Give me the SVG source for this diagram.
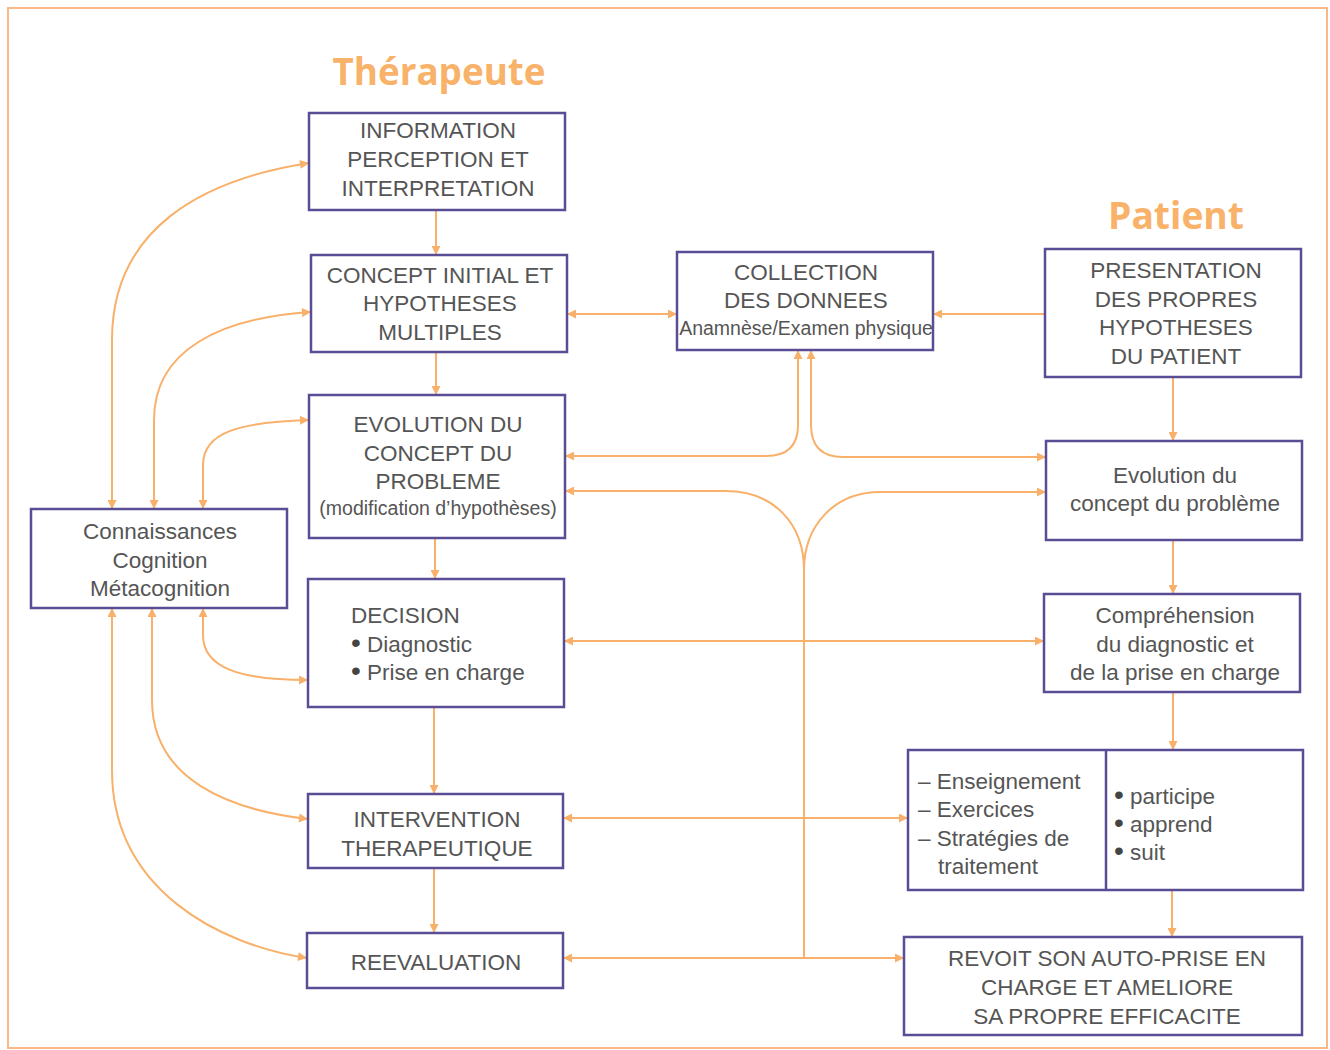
<svg xmlns="http://www.w3.org/2000/svg" width="1330" height="1050" viewBox="0 0 1330 1050">
<style>
.box{fill:#fff;stroke:#5a4c95;stroke-width:2.5}
.t{font-family:"Liberation Sans",Arial,sans-serif;font-size:22.5px;fill:#555;text-anchor:middle}
.s{font-size:19.5px}
.l{text-anchor:start}
.bu{font-size:28px;fill:#444}
.c{fill:none;stroke:#f8b06a;stroke-width:2}
.ttl{font-family:"Open Sans","Liberation Sans",sans-serif;font-weight:bold;fill:#f8b26a;text-anchor:middle}
</style>
<defs>
<marker id="a" viewBox="0 0 10 10" refX="10" refY="5" markerWidth="11" markerHeight="9" markerUnits="userSpaceOnUse" orient="auto-start-reverse">
<path d="M0,0 L10,5 L0,10 z" fill="#f8b06a"/>
</marker>
</defs>
<rect x="8" y="8" width="1319" height="1040" fill="#fff" stroke="#f8b888" stroke-width="2"/>
<text class="ttl" x="439" y="85" font-size="38" textLength="213" lengthAdjust="spacingAndGlyphs">Thérapeute</text>
<text class="ttl" x="1176" y="229" font-size="38" textLength="136" lengthAdjust="spacingAndGlyphs">Patient</text>

<g id="connectors">
<path class="c" d="M436,210 L436,255" marker-end="url(#a)"/>
<path class="c" d="M436,352 L436,395" marker-end="url(#a)"/>
<path class="c" d="M435,538 L435,579" marker-end="url(#a)"/>
<path class="c" d="M434,707 L434,794" marker-end="url(#a)"/>
<path class="c" d="M434,868 L434,933" marker-end="url(#a)"/>
<path class="c" d="M567,314 L677,314" marker-start="url(#a)" marker-end="url(#a)"/>
<path class="c" d="M1045,314 L933,314" marker-end="url(#a)"/>
<path class="c" d="M1173,377 L1173,441" marker-end="url(#a)"/>
<path class="c" d="M1173,540 L1173,594" marker-end="url(#a)"/>
<path class="c" d="M1173,692 L1173,750" marker-end="url(#a)"/>
<path class="c" d="M1172,890 L1172,937" marker-end="url(#a)"/>
<path class="c" d="M565,456 L766,456 Q798,456 798,425 L798,350" marker-start="url(#a)" marker-end="url(#a)"/>
<path class="c" d="M811,350 L811,425 Q811,457 843,457 L1046,457" marker-start="url(#a)" marker-end="url(#a)"/>
<path class="c" d="M565,491 L725,491 C775,491 804,525 804,570 L804,958" marker-start="url(#a)"/>
<path class="c" d="M804,570 C804,525 835,492 880,492 L1046,492" marker-end="url(#a)"/>
<path class="c" d="M563,958 L904,958" marker-start="url(#a)" marker-end="url(#a)"/>
<path class="c" d="M564,641 L1044,641" marker-start="url(#a)" marker-end="url(#a)"/>
<path class="c" d="M563,818 L908,818" marker-start="url(#a)" marker-end="url(#a)"/>
<path class="c" d="M112,509 L112,340 C112,230 200,180 309,163" marker-start="url(#a)" marker-end="url(#a)"/>
<path class="c" d="M154,509 L154,420 C154,350 220,318 311,312" marker-start="url(#a)" marker-end="url(#a)"/>
<path class="c" d="M203,509 L203,465 C203,432 240,422 309,420" marker-start="url(#a)" marker-end="url(#a)"/>
<path class="c" d="M203,608 L203,635 C203,668 240,680 308,680" marker-start="url(#a)" marker-end="url(#a)"/>
<path class="c" d="M152,608 L152,700 C152,780 230,810 308,819" marker-start="url(#a)" marker-end="url(#a)"/>
<path class="c" d="M112,608 L112,770 C112,890 220,945 307,958" marker-start="url(#a)" marker-end="url(#a)"/>
</g>

<g id="info">
<rect class="box" x="309" y="113" width="256" height="97"/>
<text class="t" x="438" y="138">INFORMATION</text>
<text class="t" x="438" y="167">PERCEPTION ET</text>
<text class="t" x="438" y="196">INTERPRETATION</text>
</g>
<g id="concept">
<rect class="box" x="311" y="255" width="256" height="97"/>
<text class="t" x="440" y="283">CONCEPT INITIAL ET</text>
<text class="t" x="440" y="311">HYPOTHESES</text>
<text class="t" x="440" y="340">MULTIPLES</text>
</g>
<g id="collection">
<rect class="box" x="677" y="252" width="256" height="98"/>
<text class="t" x="806" y="280">COLLECTION</text>
<text class="t" x="806" y="308">DES DONNEES</text>
<text class="t s" x="806" y="335">Anamnèse/Examen physique</text>
</g>
<g id="presentation">
<rect class="box" x="1045" y="249" width="256" height="128"/>
<text class="t" x="1176" y="278">PRESENTATION</text>
<text class="t" x="1176" y="307">DES PROPRES</text>
<text class="t" x="1176" y="335">HYPOTHESES</text>
<text class="t" x="1176" y="364">DU PATIENT</text>
</g>
<g id="evolution">
<rect class="box" x="309" y="395" width="256" height="143"/>
<text class="t" x="438" y="432">EVOLUTION DU</text>
<text class="t" x="438" y="461">CONCEPT DU</text>
<text class="t" x="438" y="489">PROBLEME</text>
<text class="t s" x="438" y="515">(modification d’hypothèses)</text>
</g>
<g id="connaissances">
<rect class="box" x="31" y="509" width="256" height="99"/>
<text class="t" x="160" y="539">Connaissances</text>
<text class="t" x="160" y="568">Cognition</text>
<text class="t" x="160" y="596">Métacognition</text>
</g>
<g id="evolution-patient">
<rect class="box" x="1046" y="441" width="256" height="99"/>
<text class="t" x="1175" y="483">Evolution du</text>
<text class="t" x="1175" y="511">concept du problème</text>
</g>
<g id="decision">
<rect class="box" x="308" y="579" width="256" height="128"/>
<text class="t l" x="351" y="623">DECISION</text>
<text class="t l" x="351" y="652"><tspan class="bu">•</tspan> Diagnostic</text>
<text class="t l" x="351" y="680"><tspan class="bu">•</tspan> Prise en charge</text>
</g>
<g id="comprehension">
<rect class="box" x="1044" y="594" width="256" height="98"/>
<text class="t" x="1175" y="623">Compréhension</text>
<text class="t" x="1175" y="652">du diagnostic et</text>
<text class="t" x="1175" y="680">de la prise en charge</text>
</g>
<g id="intervention">
<rect class="box" x="308" y="794" width="255" height="74"/>
<text class="t" x="437" y="827">INTERVENTION</text>
<text class="t" x="437" y="856">THERAPEUTIQUE</text>
</g>
<g id="traitement">
<rect class="box" x="908" y="750" width="395" height="140"/>
<line x1="1106" y1="750" x2="1106" y2="890" stroke="#5a4c95" stroke-width="2.5"/>
<text class="t l" x="918" y="789">– Enseignement</text>
<text class="t l" x="918" y="817">– Exercices</text>
<text class="t l" x="918" y="846">– Stratégies de</text>
<text class="t l" x="938" y="874">traitement</text>
<text class="t l" x="1114" y="804"><tspan class="bu">•</tspan> participe</text>
<text class="t l" x="1114" y="832"><tspan class="bu">•</tspan> apprend</text>
<text class="t l" x="1114" y="860"><tspan class="bu">•</tspan> suit</text>
</g>
<g id="reevaluation">
<rect class="box" x="307" y="933" width="256" height="55"/>
<text class="t" x="436" y="970">REEVALUATION</text>
</g>
<g id="revoit">
<rect class="box" x="904" y="937" width="398" height="98"/>
<text class="t" x="1107" y="966">REVOIT SON AUTO-PRISE EN</text>
<text class="t" x="1107" y="995">CHARGE ET AMELIORE</text>
<text class="t" x="1107" y="1024">SA PROPRE EFFICACITE</text>
</g>
</svg>
